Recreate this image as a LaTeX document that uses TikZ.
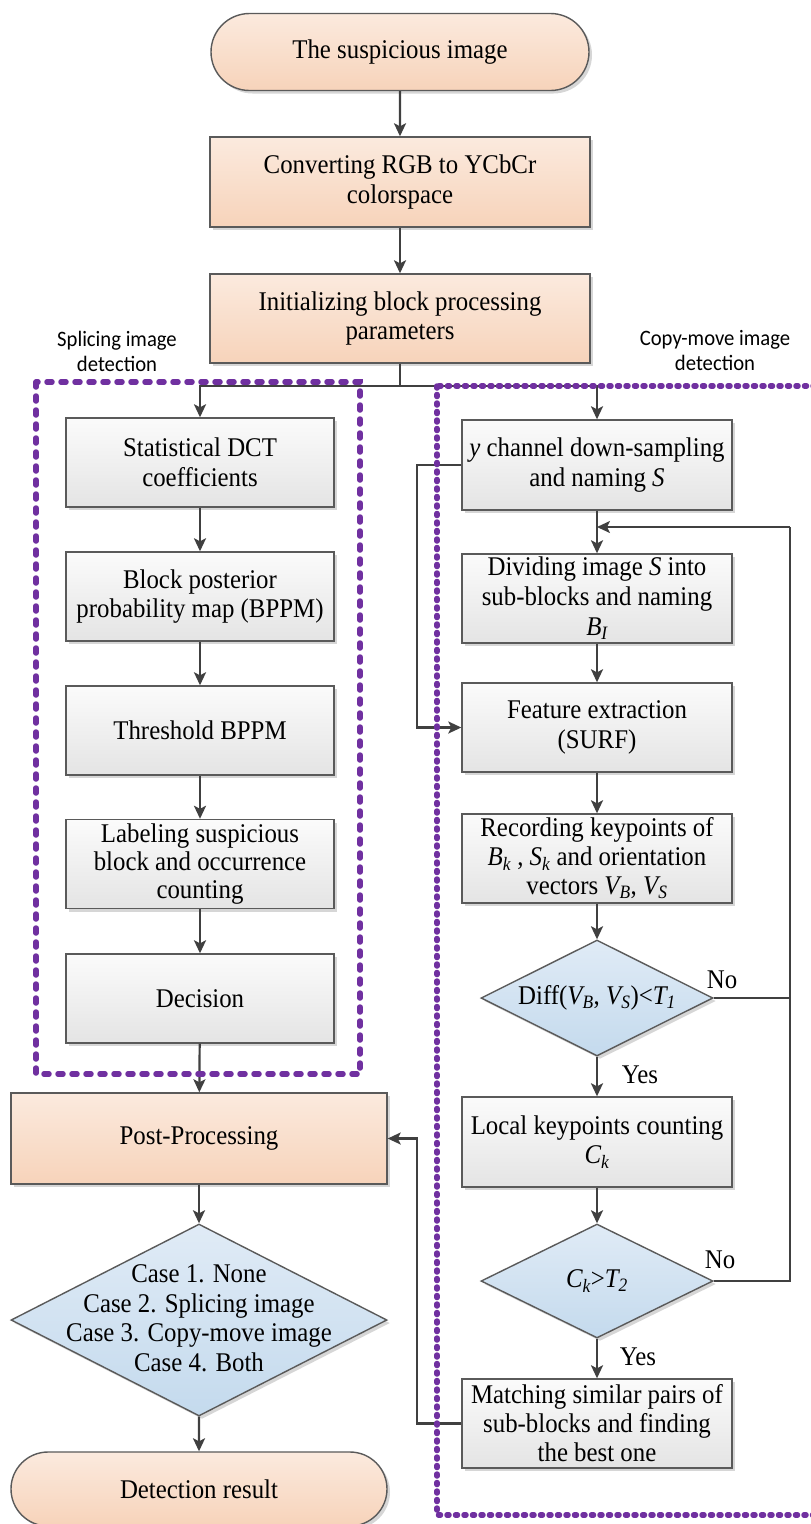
\documentclass[tikz,border=0pt]{standalone}
\usepackage{fontspec}
\setmainfont{Liberation Serif}[FakeStretch=0.92]
\newfontfamily\labelfont{Carlito}[FakeStretch=0.94]
\usetikzlibrary{arrows.meta,shapes.geometric,shapes.misc,shadows}
\definecolor{linecol}{RGB}{64,64,64}
\definecolor{bordercol}{RGB}{90,90,90}
\definecolor{orangetop}{RGB}{251,234,222}
\definecolor{orangebot}{RGB}{247,211,186}
\definecolor{graytop}{RGB}{251,251,251}
\definecolor{graybot}{RGB}{228,228,228}
\definecolor{bluetop}{RGB}{224,235,246}
\definecolor{bluebot}{RGB}{196,218,237}
\definecolor{frameviolet}{RGB}{112,48,160}
\begin{document}
\begin{tikzpicture}[x=1pt,y=-1pt,
  txt/.style={font=\fontsize{27}{29.5}\selectfont, align=center, inner sep=0pt},
  basebox/.style={txt, draw=bordercol, line width=1.4pt,
     drop shadow={shadow xshift=3pt, shadow yshift=-3pt, fill=black!35, opacity=0.45}},
  orangebox/.style={basebox, rectangle, top color=orangetop, bottom color=orangebot},
  graybox/.style={basebox, rectangle, top color=graytop, bottom color=graybot},
  termbox/.style={basebox, rounded rectangle, top color=orangetop, bottom color=orangebot},
  diabox/.style={draw=bordercol, line width=1.4pt, diamond, inner sep=0pt,
     top color=bluetop, bottom color=bluebot,
     drop shadow={shadow xshift=3pt, shadow yshift=-3pt, fill=black!35, opacity=0.45}},
  conn/.style={draw=linecol, line width=2.2pt},
  arr/.style={conn, -{Stealth[length=13pt,width=12pt,inset=3pt]}},
  sidelabel/.style={font=\labelfont\fontsize{22}{25}\selectfont, align=center, inner sep=0pt},
  leftframe/.style={draw=frameviolet, line width=5.5pt, line cap=round, dash pattern=on 5pt off 9pt},
  rightframe/.style={draw=frameviolet, line width=5.5pt, line cap=round, dash pattern=on 2pt off 6.5pt},
]
\useasboundingbox (0,0) rectangle (811,1524);
\clip (0,0) rectangle (811,1524);
\fill[white] (0,0) rectangle (811,1524);

% main column
\node[termbox, minimum width=378pt, minimum height=77pt] (start) at (400,52) {The suspicious image};
\node[orangebox, minimum width=380pt, minimum height=90pt] (conv) at (400,182) {Converting RGB to YCbCr\\colorspace};
\node[orangebox, minimum width=380pt, minimum height=89pt] (init) at (400,318.5) {Initializing block processing\\parameters};

\node[sidelabel] (lsplice) at (117,351) {Splicing image\\detection};
\node[sidelabel] (lcopy) at (715,351) {Copy-move image\\detection};

% left column
\node[graybox, minimum width=268pt, minimum height=89pt] (s1) at (200,462.5) {Statistical DCT\\coefficients};
\node[graybox, minimum width=268pt, minimum height=89pt] (s2) at (200,596.5) {Block posterior\\probability map (BPPM)};
\node[graybox, minimum width=268pt, minimum height=89pt] (s3) at (200,730.5) {Threshold BPPM};
\node[graybox, minimum width=268pt, minimum height=89pt, font=\fontsize{27}{28}\selectfont] (s4) at (200,864) {Labeling suspicious\\block and occurrence\\counting};
\node[graybox, minimum width=268pt, minimum height=89pt] (s5) at (200,998.5) {Decision};

\node[orangebox, minimum width=376pt, minimum height=91pt] (post) at (199,1138.5) {Post-Processing};
\node[diabox, minimum width=376pt, minimum height=192pt] (cases) at (199,1320) {};
\node[txt] (casestext) at (199,1318) {Case 1. None\\Case 2. Splicing image\\Case 3. Copy-move image\\Case 4. Both};
\node[termbox, minimum width=376pt, minimum height=74pt] (stop) at (199,1489) {Detection result};

% right column
\node[graybox, minimum width=270pt, minimum height=90pt] (c1) at (597,465) {\textit{y} channel down-sampling\\and naming \textit{S}};
\node[graybox, minimum width=270pt, minimum height=89pt, font=\fontsize{27}{30}\selectfont] (c2) at (597,598.5) {Dividing image \textit{S} into\\sub-blocks and naming\\\textit{B\textsubscript{I}}};
\node[graybox, minimum width=270pt, minimum height=89pt] (c3) at (597,727.5) {Feature extraction\\(SURF)};
\node[graybox, minimum width=270pt, minimum height=89pt, font=\fontsize{27}{29}\selectfont] (c4) at (597,858.5) {Recording keypoints of\\\textit{B\textsubscript{k}} , \textit{S\textsubscript{k}} and orientation\\vectors \textit{V\textsubscript{B}}, \textit{V\textsubscript{S}}};
\node[diabox, minimum width=232pt, minimum height=116pt] (d1) at (597,998) {};
\node[txt] (d1text) at (597,998) {Diff(\textit{V\textsubscript{B}}, \textit{V\textsubscript{S}})<\textit{T\textsubscript{1}}};
\node[graybox, minimum width=270pt, minimum height=90pt] (c5) at (597,1142) {Local keypoints counting\\\textit{C\textsubscript{k}}};
\node[diabox, minimum width=232pt, minimum height=114pt] (d2) at (597,1281) {};
\node[txt] (d2text) at (597,1281) {\textit{C\textsubscript{k}}>\textit{T\textsubscript{2}}};
\node[graybox, minimum width=270pt, minimum height=89pt, font=\fontsize{27}{29}\selectfont] (c6) at (597,1423.5) {Matching similar pairs of\\sub-blocks and finding\\the best one};

% labels
\node[txt] (no1) at (722,980) {No};
\node[txt] (no2) at (720,1260) {No};
\node[txt] (yes1) at (640,1075) {Yes};
\node[txt] (yes2) at (638,1357) {Yes};

% helper coordinates
\coordinate (split) at (400,386);
\coordinate (loopin) at (597,527);
\coordinate (loopcorner) at (790,527);

% connectors
\draw[arr] (start) -- (conv);
\draw[arr] (conv) -- (init);
\draw[conn] (init.south) -- (split);
\draw[arr] (split) -| (s1.north);
\draw[arr] (split) -| (c1.north);

\draw[arr] (s1) -- (s2);
\draw[arr] (s2) -- (s3);
\draw[arr] (s3) -- (s4);
\draw[arr] (s4) -- (s5);
\draw[arr] (s5) -- (post);
\draw[arr] (post) -- (cases.north);
\draw[arr] (cases.south) -- (stop);

\draw[arr] (c1) -- (c2);
\draw[arr] (c2) -- (c3);
\draw[arr] (c3) -- (c4);
\draw[arr] (c4.south) -- (d1.north);
\draw[arr] (d1.south) -- (c5.north);
\draw[arr] (c5.south) -- (d2.north);
\draw[arr] (d2.south) -- (c6.north);

\draw[conn] (d1.east) -| (loopcorner);
\draw[conn] (d2.east) -| (loopcorner);
\draw[arr] (loopcorner) -- (loopin);

\draw[arr] (c1.west) -- ++(-44,0) |- (c3.west);
\draw[arr] (c6.west) -- ++(-44,0) |- (post.east);

% dashed frames
\draw[leftframe] (36,382) rectangle (360,1074);
\draw[rightframe] (437,386) rectangle (840,1515);
\end{tikzpicture}
\end{document}
